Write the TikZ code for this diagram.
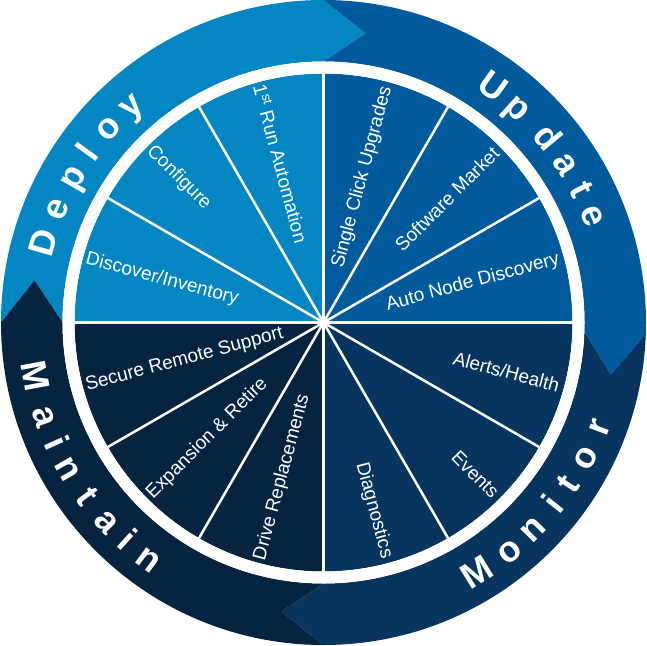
\documentclass[tikz,border=0pt]{standalone}
\usepackage{fontspec}
\setmainfont{Liberation Sans}
\definecolor{deploycol}{RGB}{4,134,195}
\definecolor{updatecol}{RGB}{0,90,156}
\definecolor{monitorcol}{RGB}{8,53,95}
\definecolor{maintaincol}{RGB}{6,35,64}
\tikzset{
  slicetxt/.style={text=white, font=\fontsize{19}{21}\selectfont, inner sep=0pt},
  ringtxt/.style={text=white, font=\fontsize{36}{38}\selectfont\bfseries, inner sep=0pt, anchor=base},
  spoke/.style={draw=white, line width=2.5pt},
}
\begin{document}
\begin{tikzpicture}[x=1pt,y=1pt]
	\useasboundingbox (-323.5,-322.5) rectangle (323.5,322.5);
	% outer ring: one chevron band per phase
	\foreach \a/\b/\col in {180/90/deploycol, 90/-2/updatecol, -2/-90/monitorcol, 270/180/maintaincol}
		\fill[\col] (\a:322.5) arc[start angle=\a, end angle=\b, radius=322.5]
		-- ({\b-8.3}:292) -- (\b:261) arc[start angle=\b, end angle=\a, radius=261]
		-- ({\a-8.3}:292) -- cycle;
	% inner pie
	\foreach \a/\col in {0/updatecol, 90/deploycol, 180/maintaincol, 270/monitorcol}
		\fill[\col] (0,0) -- (\a:249) arc[start angle=\a, end angle=\a+90, radius=249] -- cycle;
	\foreach \t in {0,30,...,330}
		\draw[spoke] (0,0) -- (\t:249);
	% slice labels, right half
	\foreach \txt/\t [count=\i] in {Single Click Upgrades/75, Software Market/45, Auto Node Discovery/15,
		{Alerts/Health}/-15, Events/-45, Diagnostics/-75}
		\node[slicetxt, anchor=east, rotate=\t] (rlbl\i) at (\t:244) {\txt};
	% slice labels, left half
	\foreach \txt/\t [count=\i] in {1\textsuperscript{st} Run Automation/105, Configure/135, {Discover/Inventory}/165,
		Secure Remote Support/195, Expansion \& Retire/225, Drive Replacements/255}
		\node[slicetxt, anchor=west, rotate=\t-180] (llbl\i) at (\t:246) {\txt};
	% white gap
	\draw[white, line width=12pt] (0,0) circle[radius=255];
	% ring words
	\foreach \ch/\t [count=\i] in {D/164.0, e/156.9, p/150.0, l/144.2, o/138.0, y/131.6,
		U/54.3, p/47.8, d/39.5, a/33.2, t/27.3, e/21.7}
		\node[ringtxt, rotate=\t-90] (top\i) at (\t:279) {\ch};
	\foreach \ch/\t [count=\i] in {M/-58.4, o/-50.9, n/-44.7, i/-38.4, t/-33.5, o/-27.3, r/-20.8,
		M/190.6, a/198.6, i/204.25, n/209.8, t/216.3, a/222.7, i/227.9, n/233.5}
		\node[ringtxt, rotate=\t+90] (bot\i) at (\t:305) {\ch};
\end{tikzpicture}
\end{document}
